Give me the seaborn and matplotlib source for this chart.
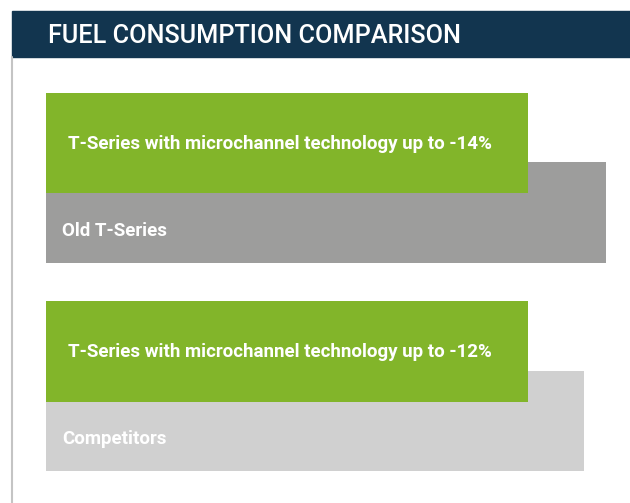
import pandas as pd
import matplotlib
matplotlib.use("Agg")
import matplotlib.pyplot as plt
from matplotlib.patches import Rectangle
from matplotlib.lines import Line2D
import seaborn as sns

# 数据
rows = ["T-Series with microchannel technology up to -14%", "Old T-Series", "",
        "T-Series with microchannel technology up to -12%", "Competitors"]
base_labels = ["Old T-Series", "Competitors"]
base_values = [100, 96]
new_labels = ["T-Series with microchannel technology up to -14%",
              "T-Series with microchannel technology up to -12%"]
new_values = [86, 86]

colors = {
    "Old T-Series": "#9d9d9c",
    "Competitors": "#d0d0d0",
    new_labels[0]: "#82b52a",
    new_labels[1]: "#82b52a",
}

sns.set_theme(style="white")
plt.rcParams['font.family'] = ['Roboto', 'DejaVu Sans']

fig = plt.figure(figsize=(6.3, 5.03), dpi=100)
W, H = 630, 503

# header + left border
fig.patches.append(Rectangle((12 / W, 1 - 57 / H), 1, 46 / H, transform=fig.transFigure,
                             color="#12354f", zorder=0))
fig.lines.append(Line2D([12 / W, 12 / W], [0, 1 - 57 / H], transform=fig.transFigure,
                        color="#c4c4c4", lw=1.5))
fig.text(48 / W, 1 - 43 / H, "FUEL CONSUMPTION COMPARISON", color="white",
         fontsize=18.2, fontweight="medium", va="baseline", ha="left")

ax = fig.add_axes([46 / W, 1 - 471 / H, 560 / W, 378 / H])

base_df = pd.DataFrame({"row": base_labels, "value": base_values})
new_df = pd.DataFrame({"row": new_labels, "value": new_values})

sns.barplot(data=base_df, y="row", x="value", hue="row", palette=colors, order=rows,
            width=1.44, orient="h", legend=False, ax=ax, saturation=1, linewidth=0)
sns.barplot(data=new_df, y="row", x="value", hue="row", palette=colors, order=rows,
            width=1.44, orient="h", legend=False, ax=ax, saturation=1, linewidth=0)

ax.set_xlim(0, 100)
ax.set_ylim(4.72, -0.72)
ax.axis("off")

# 条内文字
for lab in new_labels:
    ax.annotate(lab, xy=(0, rows.index(lab)), xytext=(22, -6), textcoords="offset pixels",
                color="white", fontsize=13.5, fontweight="bold", va="baseline", ha="left")
for lab in base_labels:
    ax.annotate(lab, xy=(0, rows.index(lab)), xytext=(16, -23), textcoords="offset pixels",
                color="white", fontsize=13.5, fontweight="bold", va="baseline", ha="left")

fig.savefig("out.png", dpi=100)
